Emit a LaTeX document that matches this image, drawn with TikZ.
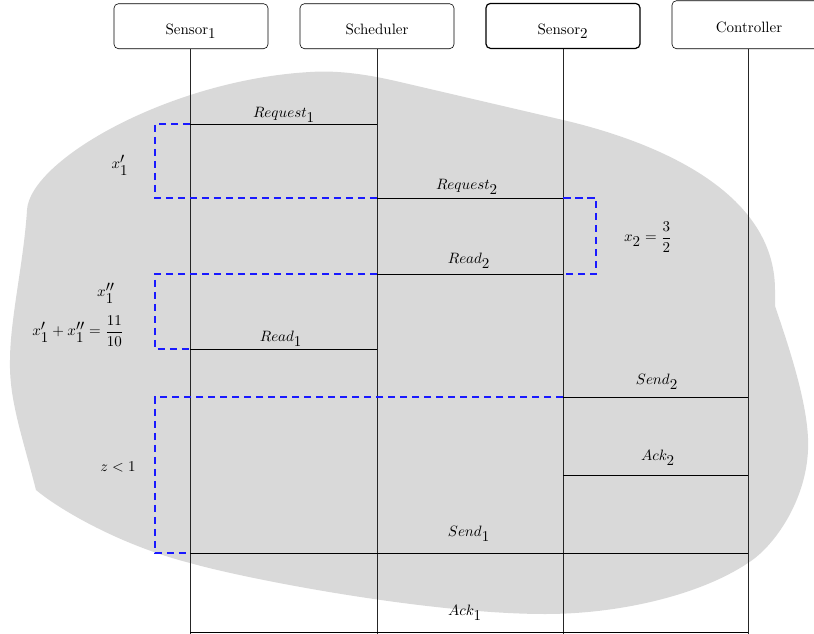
\documentclass[tikz,border=0pt]{standalone}
% scripts set at the same size as the text
\DeclareMathSizes{10}{10}{10}{10}
\begin{document}
\begin{tikzpicture}[x=0.6667pt,y=-0.6667pt,
  actor/.style={draw, rounded corners=3pt, minimum width=102.7pt, minimum height=30pt,
    inner sep=0pt, text height=11pt, text depth=0pt, fill=white},
  life/.style={draw=black!85, line width=0.5pt},
  msg/.style={draw=black, line width=0.5pt},
  slack/.style={color=blue!90!white, dash pattern=on 5pt off 3pt, line width=0.72pt},
  lbl/.style={inner sep=0pt}]
\useasboundingbox (0,0) rectangle (814,634);

% shaded region behind the timeline
\fill[black!15]
  (36,490) .. controls (22,435) and (9,400) .. (10,360)
  .. controls (10,320) and (24,260) .. (27,210)
  .. controls (30,160) and (170,80) .. (310,72)
  .. controls (340,70) and (370,75) .. (400,82)
  -- (563,120)
  .. controls (653,141) and (775,190) .. (775,290)
  -- (775,306)
  .. controls (790,350) and (810,410) .. (808,450)
  .. controls (806,500) and (775,546) .. (748,563)
  .. controls (700,595) and (620,614) .. (545,614)
  .. controls (430,614) and (250,580) .. (190,563)
  .. controls (120,545) and (60,510) .. (36,490)
  -- cycle;

% participants
\node[actor, anchor=south] (s1) at (191,49) {Sensor$_1$};
\node[actor, anchor=south] (sch) at (377,49) {Scheduler};
\node[actor, anchor=south, thick] (s2) at (563,49) {Sensor$_2$};
\node[actor, anchor=south, minimum height=32pt] (ctl) at (749,49) {Controller};

% lifeline ends
\coordinate (e1) at (190,634);
\coordinate (e2) at (377,634);
\coordinate (e3) at (563,634);
\coordinate (e4) at (748,634);
\draw[life] (s1.south -| e1) -- (e1);
\draw[life] (sch.south) -- (e2);
\draw[life] (s2.south) -- (e3);
\draw[life] (ctl.south -| e4) -- (e4);

% message end points
\coordinate (rq1a) at (190,124); \coordinate (rq1b) at (377,124);
\coordinate (rq2a) at (377,198); \coordinate (rq2b) at (563,198);
\coordinate (rd2a) at (377,274); \coordinate (rd2b) at (563,274);
\coordinate (rd1a) at (190,349); \coordinate (rd1b) at (377,349);
\coordinate (sd2a) at (563,397); \coordinate (sd2b) at (748,397);
\coordinate (ak2a) at (563,475); \coordinate (ak2b) at (748,475);
\coordinate (sd1a) at (190,553); \coordinate (sd1b) at (748,553);
\coordinate (ak1a) at (190,632); \coordinate (ak1b) at (748,632);

% messages
\draw[msg] (rq1a) -- (rq1b);
\draw[msg] (rq2a) -- (rq2b);
\draw[msg] (rd2a) -- (rd2b);
\draw[msg] (rd1a) -- (rd1b);
\draw[msg] (sd2a) -- (sd2b);
\draw[msg] (ak2a) -- (ak2b);
\draw[msg] (sd1a) -- (sd1b);
\draw[msg] (ak1a) -- (ak1b);

\node[lbl] (lrq1) at (284,115) {$Request_1$};
\node[lbl] (lrq2) at (467,187) {$Request_2$};
\node[lbl] (lrd2) at (469,261) {$Read_2$};
\node[lbl] (lrd1) at (281,339) {$Read_1$};
\node[lbl] (lsd2) at (657,382) {$Send_2$};
\node[lbl] (lak2) at (658,458) {$Ack_2$};
\node[lbl] (lsd1) at (469,534) {$Send_1$};
\node[lbl] (lak1) at (465,613) {$Ack_1$};

% dashed intervals
\coordinate (d1) at (155,124); \coordinate (d2) at (155,198);
\draw[slack] (rq1a) -- (d1) -- (d2) -- (rq2a);
\coordinate (d3) at (596,198); \coordinate (d4) at (596,274);
\draw[slack] (rq2b) -- (d3) -- (d4) -- (rd2b);
\coordinate (d5) at (155,274); \coordinate (d6) at (155,349);
\draw[slack] (rd2a) -- (d5) -- (d6) -- (rd1a);
\coordinate (d7) at (155,397); \coordinate (d8) at (155,553);
\draw[slack] (sd2a) -- (d7) -- (d8) -- (sd1a);

% interval annotations
\node[lbl] (ax1) at (120,165) {$x'_1$};
\node[lbl] (ax2) at (648,237) {$x_2=\displaystyle\frac{3}{2}$};
\node[lbl] (ax3) at (106,293) {$x''_1$};
\node[lbl] (ax4) at (78,331) {$x'_1+x''_1=\displaystyle\frac{11}{10}$};
\node[lbl] (ax5) at (118,467) {$z<1$};
\end{tikzpicture}
\end{document}
